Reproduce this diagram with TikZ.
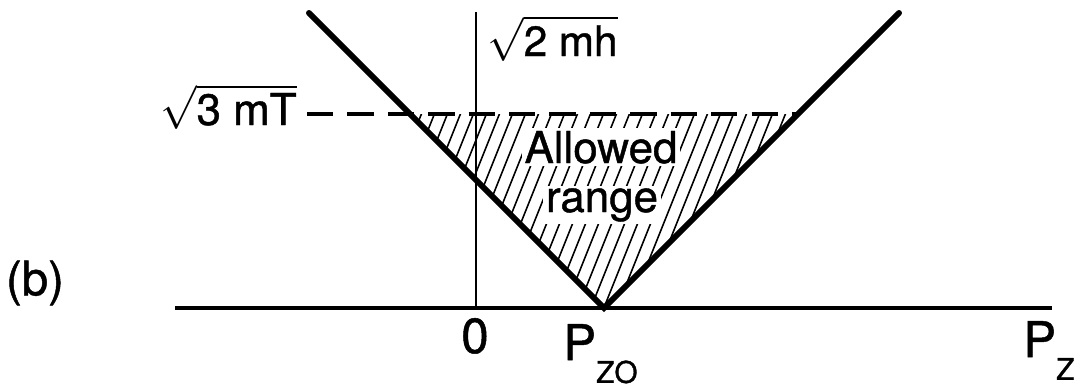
\documentclass[tikz,border=0pt]{standalone}
\usepackage{fontspec}
\setmainfont{TeX Gyre Heros}[FakeBold=1]
\usetikzlibrary{calc}
\tikzset{
  vline/.style={line width=3.4pt, line cap=round},
  axisline/.style={line width=2.2pt},
  thinaxis/.style={line width=1.1pt},
  dashline/.style={line width=2.2pt, dash pattern=on 15pt off 8pt},
  hatchline/.style={line width=0.9pt},
  lbl/.style={inner sep=0pt, font=\fontsize{25}{25}\selectfont},
  axlbl/.style={inner sep=0pt, font=\fontsize{28}{28}\selectfont},
  gap/.style={fill=white, inner sep=1.5pt},
}
\newcommand\sublbl[1]{\raisebox{-13pt}{\fontsize{17}{17}\selectfont #1}}

\begin{document}
\begin{tikzpicture}[x=0.02cm, y=-0.02cm]
\useasboundingbox (0,0) rectangle (1081,389);
% key points
\coordinate (vtx) at (604,308);
\coordinate (ltop) at (309,13);
\coordinate (rtop) at (899,13);
\coordinate (axl) at (175,308);
\coordinate (axr) at (1052,308);
\coordinate (vbot) at (476,308);
\coordinate (vtop) at (476,12);
\coordinate (dl) at (307,114);
\coordinate (dr) at (798,114);
\coordinate (hl) at (410,114);

% hatching
\begin{scope}
  \clip (hl) -- (vtx) -- (dr) -- cycle;
  \foreach \x in {300,313,...,820}
    \draw[hatchline] (\x,320) -- ++(90,-225);
\end{scope}
\node[lbl, gap, anchor=base] (allowed) at (601,163) {Allowed};
\node[lbl, gap, anchor=base] (range) at (602,212) {range};

% axes
\draw[axisline] (axl) -- (axr);
\draw[thinaxis] (vbot) -- (vtop);
\draw[dashline] (dl) -- (dr);
\draw[vline] (ltop) -- (vtx) -- (rtop);

% labels
\node[lbl, anchor=base east] (sqrtmt) at (297,125) {$\sqrt{\mbox{3 mT}}$};
\node[lbl, font=\fontsize{24}{24}\selectfont, anchor=base west] (sqrtmh) at (487,56) {$\sqrt{\mbox{2 mh}}$};
\node[lbl, font=\fontsize{27}{27}\selectfont] (partb) at (35,283) {(b)};
\node[axlbl, anchor=base] (zero) at (475,353) {0};
\node[axlbl, anchor=base west] (pzo) at (563,360) {P\sublbl{ZO}};
\node[axlbl, anchor=base west] (pz) at (1023,357) {P\sublbl{Z}};
\end{tikzpicture}
\end{document}
